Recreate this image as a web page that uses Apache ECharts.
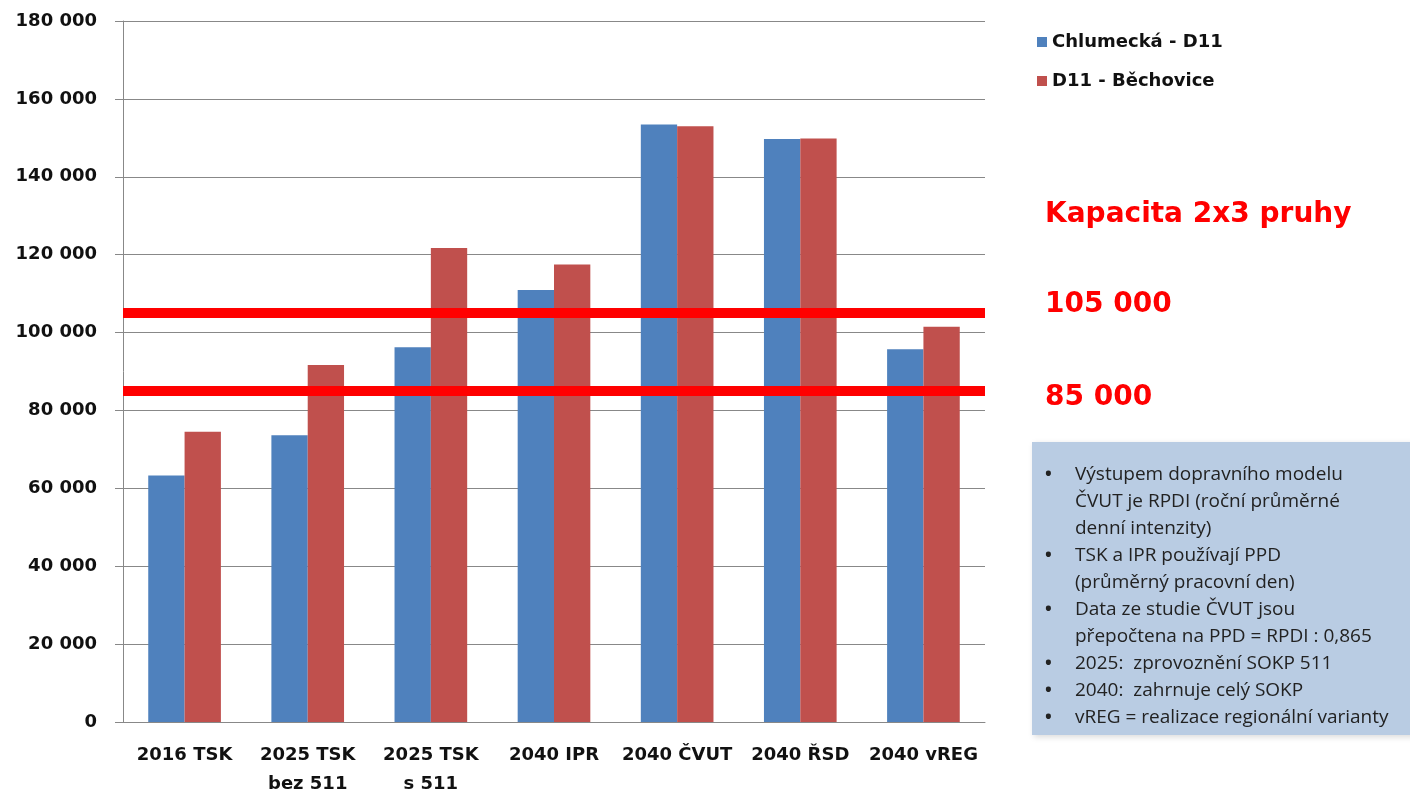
<!DOCTYPE html>
<html>
<head>
<meta charset="utf-8">
<script src="https://cdn.jsdelivr.net/npm/echarts@6/dist/echarts.min.js"></script>
<style>
html,body{margin:0;padding:0;background:#fff;}
#c{width:1410px;height:799px;}
</style>
</head>
<body>
<div id="c"></div>
<script>
// ---- data ----
const categories = ['2016 TSK', '2025 TSK\nbez 511', '2025 TSK\ns 511', '2040 IPR', '2040 ČVUT', '2040 ŘSD', '2040 vREG'];
const seriesNames = ['Chlumecká - D11', 'D11 - Běchovice'];
const chlumeckaD11 = [63300, 73600, 96200, 110900, 153400, 149700, 95700];
const d11Bechovice = [74500, 91700, 121700, 117500, 153000, 149800, 101500];
const capacityLines = [105000, 85000];
const capacityTitle = 'Kapacita 2x3 pruhy';
const capacityLabels = ['105 000', '85 000'];
const noteItems = [
  ['Výstupem dopravního modelu', 'ČVUT je RPDI (roční průměrné', 'denní intenzity)'],
  ['TSK a IPR používají PPD', '(průměrný pracovní den)'],
  ['Data ze studie ČVUT jsou', 'přepočtena na PPD = RPDI : 0,865'],
  ['2025:  zprovoznění SOKP 511'],
  ['2040:  zahrnuje celý SOKP'],
  ['vREG = realizace regionální varianty']
];

// ---- chart ----
const chart = echarts.init(document.getElementById('c'));
const fmt = v => String(v).replace(/\B(?=(\d{3})+(?!\d))/g, ' ');
const boldFont = 'DejaVu Sans';
const blue = '#4f81bd', red = '#c0504d';

// note box graphics
const noteEls = [];
noteEls.push({type:'rect', shape:{x:1032, y:442, width:400, height:293}, style:{fill:'#b9cce3', shadowBlur:6, shadowColor:'rgba(0,0,0,0.15)', shadowOffsetX:2, shadowOffsetY:2}});
let line = 0;
noteItems.forEach(item => {
  noteEls.push({type:'text', x:1045, y:475 + line*27, style:{text:'•', font:'bold 18px "Open Sans"', fill:'#222', verticalAlign:'middle'}});
  item.forEach(t => {
    noteEls.push({type:'text', x:1075, y:475 + line*27, style:{text:t, font:'19px "Open Sans"', fill:'#222', verticalAlign:'middle'}});
    line++;
  });
});

chart.setOption({
  animation:false,
  grid:{left:123, right:425, top:21, bottom:75},
  legend:{
    orient:'vertical', left:1032, top:27, itemWidth:10, itemHeight:10, itemGap:19,
    icon:'rect',
    textStyle:{fontFamily:boldFont, fontWeight:'bold', fontSize:18, color:'#111', lineHeight:20},
    data:seriesNames
  },
  xAxis:{
    type:'category', data:categories,
    axisLine:{lineStyle:{color:'#888'}},
    axisTick:{length:7, lineStyle:{color:'#888'}},
    axisLabel:{fontFamily:boldFont, fontWeight:'bold', fontSize:18, color:'#111', lineHeight:29, margin:19, interval:0}
  },
  yAxis:{
    type:'value', min:0, max:180000, interval:20000,
    axisLine:{show:true, lineStyle:{color:'#888'}},
    axisTick:{show:true, length:8, lineStyle:{color:'#888'}},
    splitLine:{lineStyle:{color:'#888'}},
    axisLabel:{formatter:fmt, fontFamily:boldFont, fontWeight:'bold', fontSize:18, color:'#111', margin:26}
  },
  series:[
    {name:seriesNames[0], type:'bar', data:chlumeckaD11, itemStyle:{color:blue}, barGap:'0%', barCategoryGap:'41%'},
    {name:seriesNames[1], type:'bar', data:d11Bechovice, itemStyle:{color:red}, barGap:'0%', barCategoryGap:'41%',
      markLine:{silent:true, symbol:'none', label:{show:false}, lineStyle:{color:'#ff0000', width:10, type:'solid'},
        data:capacityLines.map(v => ({yAxis:v}))}}
  ],
  graphic:[
    {type:'text', x:1045, y:215, style:{text:capacityTitle, font:'bold 28px "DejaVu Sans"', fill:'#ff0000', verticalAlign:'middle'}},
    {type:'text', x:1045, y:305, style:{text:capacityLabels[0], font:'bold 28px "DejaVu Sans"', fill:'#ff0000', verticalAlign:'middle'}},
    {type:'text', x:1045, y:398, style:{text:capacityLabels[1], font:'bold 28px "DejaVu Sans"', fill:'#ff0000', verticalAlign:'middle'}},
    {type:'group', children:noteEls}
  ]
});
</script>
</body>
</html>
